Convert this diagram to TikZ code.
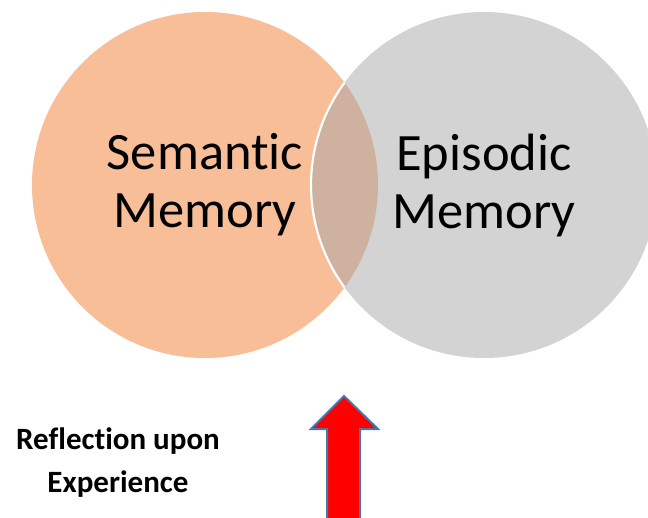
\documentclass[tikz,border=0pt]{standalone}
\usepackage{fontspec}
\setmainfont{Carlito}[Ligatures=NoCommon]
\definecolor{semorange}{HTML}{F7BE98}
\definecolor{epigray}{HTML}{D3D3D3}
\definecolor{overlapc}{HTML}{CFB1A0}
\definecolor{arrowblue}{HTML}{4A76A8}
\tikzset{
  x=1pt, y=-1pt,
  bigtext/.style={font=\fontsize{52.5}{58}\selectfont, align=center, text=black},
  smalltext/.style={font=\fontsize{31}{43}\selectfont\bfseries, align=center, text=black},
}
\begin{document}
\begin{tikzpicture}
\clip (0,0) rectangle (648,517);
\fill[white] (0,0) rectangle (648,517);
% circles
\fill[semorange] (205,185) circle[radius=173];
\fill[epigray] (484,185) circle[radius=173];
\begin{scope}
  \clip (205,185) circle[radius=173];
  \fill[overlapc] (484,185) circle[radius=173];
  \draw[white, line width=2.2] (484,185) circle[radius=173];
\end{scope}
\node[bigtext] (sem) at (205,185) {Semantic\\Memory};
\node[bigtext] (epi) at (484,185) {Episodic\\Memory};
% arrow
\draw[fill=red, draw=arrowblue, line width=2, line join=miter]
  (344,396) -- (378,429) -- (360,429) -- (360,530) -- (327,530) -- (327,429) -- (311,429) -- cycle;
\node[smalltext] (refl) at (118,463) {Reflection upon\\Experience};
\end{tikzpicture}
\end{document}
